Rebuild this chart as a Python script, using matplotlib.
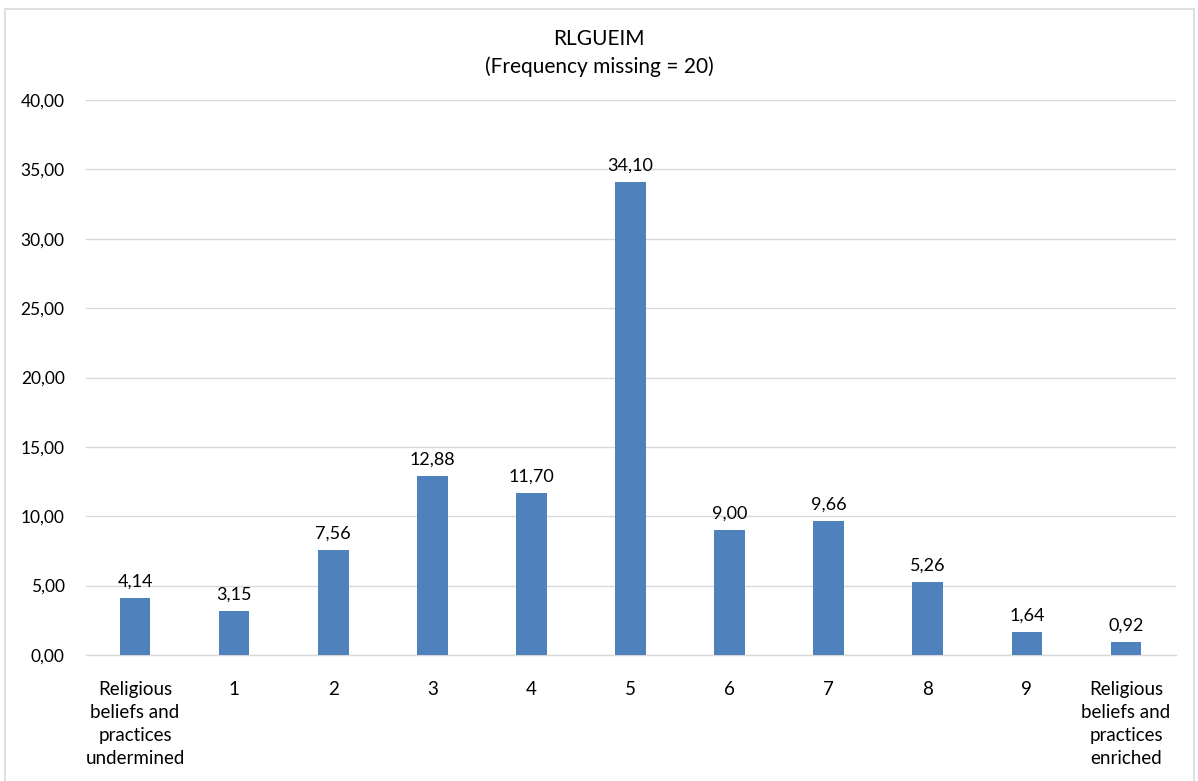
import matplotlib
matplotlib.use("Agg")
import matplotlib.pyplot as plt
from matplotlib.patches import Rectangle

categories = ["Religious\nbeliefs and\npractices\nundermined", "1", "2", "3", "4", "5",
              "6", "7", "8", "9", "Religious\nbeliefs and\npractices\nenriched"]
percents = [4.14, 3.15, 7.56, 12.88, 11.70, 34.10, 9.00, 9.66, 5.26, 1.64, 0.92]
yticks = [0, 5, 10, 15, 20, 25, 30, 35, 40]
title = "RLGUEIM\n(Frequency missing = 20)"

plt.rcParams['font.family'] = ['Lato', 'DejaVu Sans']

W, H = 1198, 781
fig = plt.figure(figsize=(W / 100, H / 100), dpi=100)

# outer chart border
fig.patches.append(Rectangle((5 / W, -0.01), (1194 - 5) / W, (H - 9) / H + 0.01,
                             transform=fig.transFigure, fill=False,
                             edgecolor="#d9d9d9", linewidth=1.2))

ax = fig.add_axes([85.5 / W, 1 - 655 / H, (1175.5 - 85.5) / W, (655 - 100) / H])
x = list(range(len(categories)))
ax.bar(x, percents, width=0.31, color="#4f81bd", zorder=3)

for xi, v in zip(x, percents):
    ax.text(xi, v + 0.6, f"{v:.2f}".replace(".", ","), ha="center", va="bottom",
            fontsize=13, color="#000000")

ax.set_xlim(-0.5, len(categories) - 0.5)
ax.set_ylim(0, 40)
ax.set_yticks(yticks)
ax.set_yticklabels([f"{t:.2f}".replace(".", ",") for t in yticks], fontsize=12.5)
ax.set_xticks(x)
ax.set_xticklabels(categories, fontsize=13.5, linespacing=1.42, va="top")
ax.tick_params(axis="both", length=0)
ax.tick_params(axis="x", pad=19)
ax.tick_params(axis="y", pad=15)

ax.grid(axis="y", color="#d9d9d9", linewidth=1, zorder=0)
for s in ["top", "right", "left"]:
    ax.spines[s].set_visible(False)
ax.spines["bottom"].set_color("#d9d9d9")
ax.spines["bottom"].set_linewidth(1)

fig.text(0.5, 1 - 53 / H, title, ha="center", va="center", fontsize=15,
         linespacing=1.5)

fig.savefig("out.png", dpi=100, facecolor="white")
